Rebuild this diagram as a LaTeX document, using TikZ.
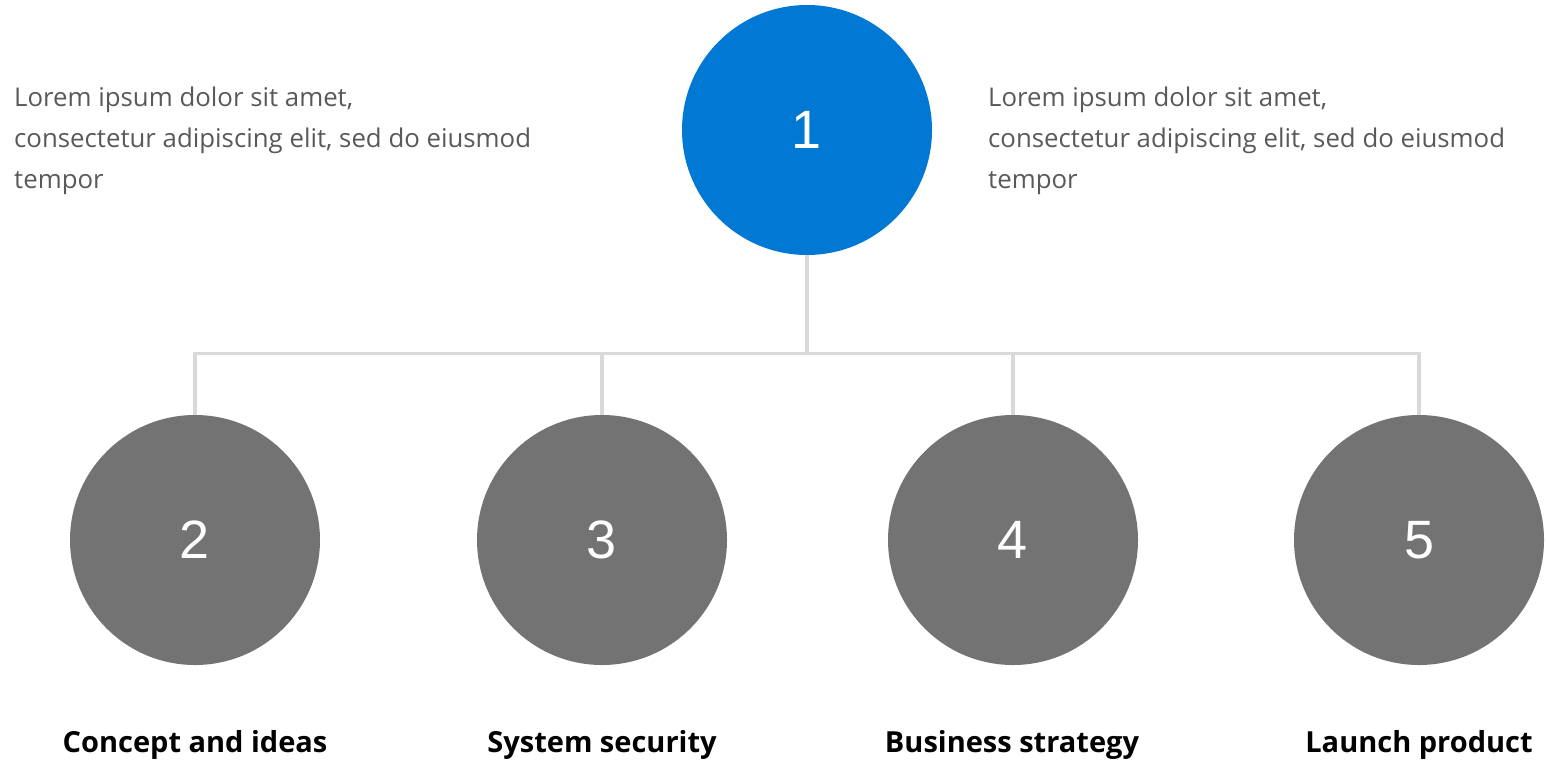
\documentclass[tikz,border=0pt]{standalone}
\usepackage{fontspec}
\setmainfont{Open Sans}
\newfontfamily\numfont{Liberation Sans}
\definecolor{blueA}{HTML}{0078D4}
\definecolor{grayA}{HTML}{737373}
\definecolor{lineA}{HTML}{D9D9D9}
\definecolor{textA}{HTML}{595959}
\begin{document}
\begin{tikzpicture}[x=1pt,y=-1pt,
  mainc/.style={circle, fill=blueA, minimum size=250pt, inner sep=0pt, text=white, font=\numfont\fontsize{54}{54}\selectfont},
  subc/.style={circle, fill=grayA, minimum size=250pt, inner sep=0pt, text=white, font=\numfont\fontsize{54}{54}\selectfont},
  conn/.style={draw=lineA, line width=3.5pt},
  desc/.style={anchor=base west, align=left, text=textA, inner sep=0pt, font=\fontsize{25.8}{41}\selectfont},
  lbl/.style={anchor=base, inner sep=0pt, text=black, font=\bfseries\fontsize{29}{36}\selectfont}]
\useasboundingbox (0,0) rectangle (1547,761);
\coordinate (j) at (807,353.5);
\node[mainc] (n1) at (807,130) {1};
\node[subc] (n2) at (195,540) {2};
\node[subc] (n3) at (602,540) {3};
\node[subc] (n4) at (1013,540) {4};
\node[subc] (n5) at (1419,540) {5};
\draw[conn] (n1.south) -- (j);
\draw[conn] (n2.north) -- (n2.north |- j) -- (n5.north |- j) -- (n5.north);
\draw[conn] (n3.north) -- (n3.north |- j);
\draw[conn] (n4.north) -- (n4.north |- j);
\node[desc] (t1) at (14,188) {Lorem ipsum dolor sit amet,\\consectetur adipiscing elit, sed do eiusmod\\tempor};
\node[desc] (t2) at (988,188) {Lorem ipsum dolor sit amet,\\consectetur adipiscing elit, sed do eiusmod\\tempor};
\node[lbl] (l2) at (195,752) {Concept and ideas};
\node[lbl] (l3) at (602,752) {System security};
\node[lbl] (l4) at (1012,752) {Business strategy};
\node[lbl] (l5) at (1419,752) {Launch product};
\end{tikzpicture}
\end{document}
